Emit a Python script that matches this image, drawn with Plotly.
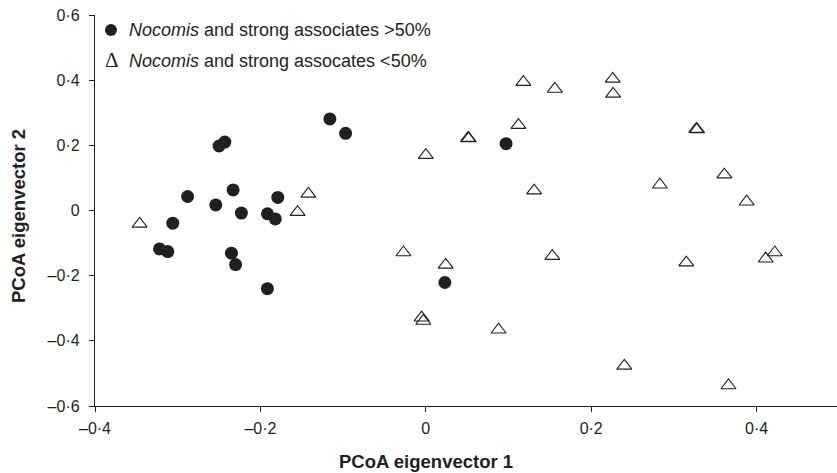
import plotly.graph_objects as go

# Nocomis and strong associates >50% (filled circles)
circ_x = [-0.322, -0.312, -0.306, -0.288, -0.254, -0.250, -0.243, -0.233, -0.223, -0.235,
          -0.230, -0.1915, -0.182, -0.179, -0.1915, -0.116, -0.097, 0.097, 0.023]
circ_y = [-0.118, -0.126, -0.039, 0.043, 0.017, 0.198, 0.210, 0.063, -0.008, -0.131,
          -0.166, -0.010, -0.026, 0.040, -0.240, 0.281, 0.237, 0.205, -0.221]

# Nocomis and strong assocates <50% (open triangles)
tri_x = [-0.346, -0.155, -0.142, -0.027, -0.005, -0.003, 0.000, 0.024, 0.051, 0.052,
         0.088, 0.112, 0.118, 0.131, 0.156, 0.153, 0.226, 0.2265, 0.240, 0.283,
         0.315, 0.327, 0.328, 0.361, 0.366, 0.388, 0.411, 0.422]
tri_y = [-0.041, -0.005, 0.051, -0.129, -0.329, -0.339, 0.170, -0.167, 0.222, 0.221,
         -0.366, 0.262, 0.394, 0.061, 0.373, -0.140, 0.404, 0.358, -0.477, 0.079,
         -0.160, 0.250, 0.249, 0.110, -0.537, 0.027, -0.148, -0.129]

x_ticks = [-0.4, -0.2, 0, 0.2, 0.4]
x_ticktext = ["\u20130\u00b74", "\u20130\u00b72", "0", "0\u00b72", "0\u00b74"]
y_ticks = [-0.6, -0.4, -0.2, 0, 0.2, 0.4, 0.6]
y_ticktext = ["\u20130\u00b76", "\u20130\u00b74", "\u20130\u00b72", "0", "0\u00b72", "0\u00b74", "0\u00b76"]

W, H = 837, 473
L, R, T, B = 95, 0, 15, 67
pw, ph = W - L - R, H - T - B

def px_x(p):
    return (p - L) / pw

def px_y(p):
    return (H - B - p) / ph

FONT = "Liberation Sans, Arial, sans-serif"
INK = "#231f20"

fig = go.Figure()
fig.add_trace(go.Scatter(
    x=tri_x, y=tri_y, mode="markers", name="Nocomis and strong assocates <50%",
    marker=dict(symbol="triangle-up-open", size=13, color=INK, line=dict(width=1.1, color=INK)),
    showlegend=False))
fig.add_trace(go.Scatter(
    x=circ_x, y=circ_y, mode="markers", name="Nocomis and strong associates >50%",
    marker=dict(symbol="circle", size=13, color=INK, line=dict(width=0)),
    showlegend=False))

fig.update_layout(
    width=W, height=H, autosize=False,
    margin=dict(l=L, r=R, t=T, b=B, pad=0),
    paper_bgcolor="white", plot_bgcolor="white",
    font=dict(family=FONT, size=16, color=INK),
    xaxis=dict(range=[-0.4, -0.4 + pw / 827.0], tickvals=x_ticks, ticktext=x_ticktext,
               showgrid=False, zeroline=False, showline=True, linecolor=INK, linewidth=1.3,
               ticks="outside", ticklen=5, tickcolor=INK, tickwidth=1, ticklabelstandoff=3,
               tickfont=dict(size=16, color=INK)),
    yaxis=dict(range=[-0.6, 0.6], tickvals=y_ticks, ticktext=y_ticktext,
               showgrid=False, zeroline=False, showline=True, linecolor=INK, linewidth=1.3,
               ticks="outside", ticklen=5, tickcolor=INK, tickwidth=1, ticklabelstandoff=6,
               tickfont=dict(size=16, color=INK)),
)

# legend (as in the original, drawn inside the plot)
fig.add_shape(type="circle", xref="paper", yref="paper",
              x0=px_x(105), x1=px_x(117), y0=px_y(36), y1=px_y(24),
              fillcolor=INK, line=dict(width=0))
fig.add_annotation(x=px_x(127), y=px_y(30), xref="paper", yref="paper",
                   text="<i>Nocomis</i> and strong associates >50%", showarrow=False,
                   xanchor="left", yanchor="middle", font=dict(size=18, color=INK))
fig.add_annotation(x=px_x(103), y=px_y(60), xref="paper", yref="paper",
                   text="\u0394", showarrow=False,
                   xanchor="left", yanchor="middle",
                   font=dict(family="Liberation Serif, Times New Roman, serif", size=21, color=INK))
fig.add_annotation(x=px_x(127), y=px_y(61), xref="paper", yref="paper",
                   text="<i>Nocomis</i> and strong assocates <50%", showarrow=False,
                   xanchor="left", yanchor="middle", font=dict(size=18, color=INK))

# axis titles
fig.add_annotation(x=0, y=px_y(461), xref="x", yref="paper",
                   text="<b>PCoA eigenvector 1</b>", showarrow=False,
                   xanchor="center", yanchor="middle", font=dict(size=18.5, color=INK))
fig.add_annotation(x=px_x(18), y=px_y(216), xref="paper", yref="paper",
                   text="<b>PCoA eigenvector 2</b>", showarrow=False, textangle=-90,
                   xanchor="center", yanchor="middle", font=dict(size=18.5, color=INK))

fig.write_html("out.html", config={"displayModeBar": False},
               post_script="document.body.style.margin='0';document.body.style.padding='0';")
